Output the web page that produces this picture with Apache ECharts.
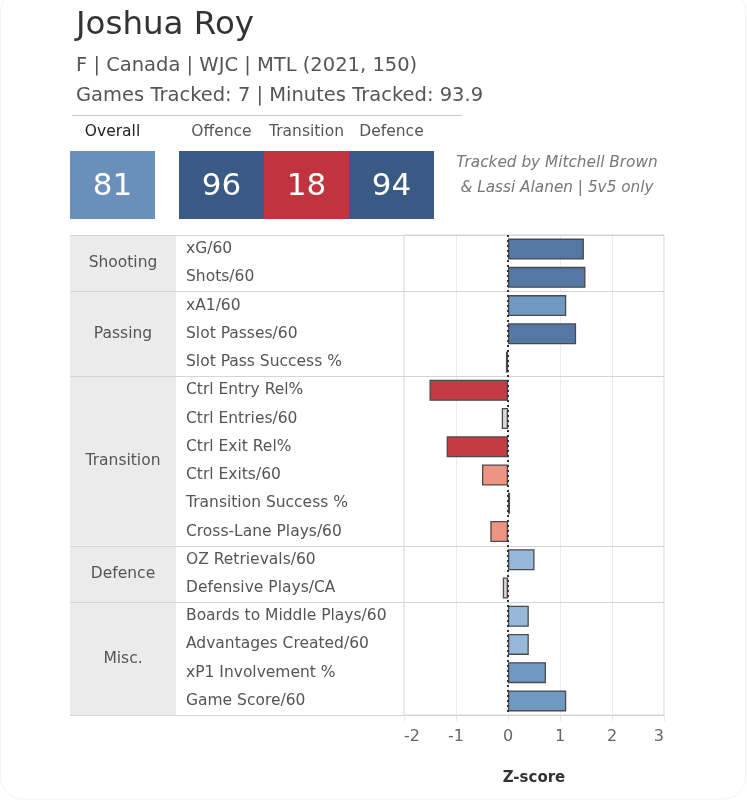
<!DOCTYPE html>
<html>
<head>
<meta charset="utf-8">
<script src="https://cdn.jsdelivr.net/npm/echarts@6/dist/echarts.min.js"></script>
<style>
html,body{margin:0;padding:0;background:#fff;}
#chart{width:747px;height:800px;}
</style>
</head>
<body>
<div id="chart"></div>
<script>
// ---- Data ----
const playerName = 'Joshua Roy';
const subtitle = 'F | Canada | WJC | MTL (2021, 150)';
const trackedLine = 'Games Tracked: 7 | Minutes Tracked: 93.9';
const creditLines = ['Tracked by Mitchell Brown', '& Lassi Alanen | 5v5 only'];

const scoreNames = ['Overall', 'Offence', 'Transition', 'Defence'];
const scoreValues = [81, 96, 18, 94];

const sectionNames = ['Shooting', 'Passing', 'Transition', 'Defence', 'Misc.'];
const sectionSizes = [2, 3, 6, 2, 4];

const metrics = [
  'xG/60', 'Shots/60',
  'xA1/60', 'Slot Passes/60', 'Slot Pass Success %',
  'Ctrl Entry Rel%', 'Ctrl Entries/60', 'Ctrl Exit Rel%', 'Ctrl Exits/60', 'Transition Success %', 'Cross-Lane Plays/60',
  'OZ Retrievals/60', 'Defensive Plays/CA',
  'Boards to Middle Plays/60', 'Advantages Created/60', 'xP1 Involvement %', 'Game Score/60'
];
const zScores = [
  1.46, 1.49,
  1.12, 1.31, -0.04,
  -1.51, -0.12, -1.18, -0.50, 0.04, -0.34,
  0.51, -0.10,
  0.40, 0.40, 0.73, 1.12
];
const xMin = -2, xMax = 3, xStep = 1;
const axisTitle = 'Z-score';

// ---- Layout / style ----
const FONT = '"DejaVu Sans", "Open Sans", sans-serif';
const G = {left: 404, right: 664, top: 235, bottom: 715};
const TABLE_LEFT = 70, CAT_RIGHT = 176, LABEL_X = 186;
const LINE_COLOR = '#d4d4d4';

function tileColor(v) {
  if (v >= 90) return '#3a5a86';
  if (v >= 60) return '#6a8fba';
  if (v >= 40) return '#d9d3d1';
  if (v >= 25) return '#e98b7c';
  return '#c1343f';
}

// section ranges from sizes
const sectionData = [];
let r = 0;
sectionSizes.forEach((n, i) => { sectionData.push([0, r, r + n - 1, i]); r += n; });

const chart = echarts.init(document.getElementById('chart'), null, {renderer: 'canvas'});

// header graphics
const graphics = [];
graphics.push({type: 'rect', shape: {x: 0.5, y: -10, width: 745, height: 809, r: 22},
  style: {fill: 'none', stroke: '#f0f3f7', lineWidth: 1}, silent: true});
graphics.push({type: 'text', x: 76, y: 26, style: {text: playerName, font: '400 32.5px ' + FONT, fill: '#333', align: 'left', verticalAlign: 'middle'}});
graphics.push({type: 'text', x: 76, y: 66, style: {text: subtitle, font: '400 19.5px ' + FONT, fill: '#555', align: 'left', verticalAlign: 'middle'}});
graphics.push({type: 'text', x: 76, y: 96, style: {text: trackedLine, font: '400 19.5px ' + FONT, fill: '#555', align: 'left', verticalAlign: 'middle'}});
graphics.push({type: 'line', shape: {x1: 72, y1: 115.5, x2: 462, y2: 115.5}, style: {stroke: '#c8c8c8', lineWidth: 1}});

const tileW = 85, tileH = 68, tileTop = 151;
const tileXs = [70, 179, 264, 349];
scoreNames.forEach((name, i) => {
  const x = tileXs[i];
  graphics.push({type: 'text', x: x + tileW / 2, y: 132,
    style: {text: name, font: '400 15.5px ' + FONT, fill: i === 0 ? '#222' : '#555', align: 'center', verticalAlign: 'middle'}});
  graphics.push({type: 'rect', shape: {x: x, y: tileTop, width: tileW, height: tileH},
    style: {fill: tileColor(scoreValues[i])}});
  graphics.push({type: 'text', x: x + tileW / 2, y: tileTop + tileH / 2 + 2,
    style: {text: String(scoreValues[i]), font: '400 31px ' + FONT, fill: '#fff', align: 'center', verticalAlign: 'middle'}});
});
creditLines.forEach((t, i) => {
  graphics.push({type: 'text', x: 557, y: 163 + i * 25,
    style: {text: t, font: 'italic 400 15.3px ' + FONT, fill: '#777', align: 'center', verticalAlign: 'middle'}});
});

const option = {
  animation: false,
  backgroundColor: '#fff',
  textStyle: {fontFamily: FONT},
  grid: {left: G.left, top: G.top, width: G.right - G.left, height: G.bottom - G.top,
    show: true, borderColor: LINE_COLOR, borderWidth: 1, containLabel: false},
  xAxis: {
    type: 'value', min: xMin, max: xMax, interval: xStep,
    name: axisTitle, nameLocation: 'middle', nameGap: 56,
    nameTextStyle: {fontSize: 15, fontWeight: 'bold', color: '#333', fontFamily: FONT},
    axisLine: {show: false},
    axisTick: {show: true, length: 6, lineStyle: {color: '#e8e8e8'}},
    axisLabel: {fontSize: 16, color: '#666', margin: 14, fontFamily: FONT,
      alignMinLabel: 'left', alignMaxLabel: 'right'},
    splitLine: {show: true, lineStyle: {color: '#ececec', width: 1}}
  },
  yAxis: {
    type: 'category', data: metrics, inverse: true,
    axisLine: {show: false}, axisTick: {show: false},
    splitLine: {show: false},
    axisLabel: {align: 'left', margin: G.left - LABEL_X, fontSize: 15.5, color: '#555', fontFamily: FONT}
  },
  visualMap: {
    show: false, type: 'piecewise', seriesIndex: 0, dimension: 0,
    pieces: [
      {gte: 1.2, color: '#5577a3'},
      {gte: 0.6, lt: 1.2, color: '#7099c1'},
      {gte: 0.2, lt: 0.6, color: '#95b8db'},
      {gte: -0.2, lt: 0.2, color: '#dfd7d5'},
      {gte: -0.6, lt: -0.2, color: '#ee9483'},
      {lt: -0.6, color: '#c63b43'}
    ]
  },
  series: [
    {
      type: 'bar',
      data: zScores,
      barWidth: 21,
      itemStyle: {borderColor: '#4a4a4a', borderWidth: 1.3},
      z: 3,
      markLine: {
        silent: true, symbol: 'none', label: {show: false},
        lineStyle: {type: [2, 3], color: '#333', width: 2},
        data: [{xAxis: 0}],
        z: 5
      }
    },
    {
      type: 'custom',
      data: sectionData,
      encode: {x: 0, y: 1},
      clip: false,
      silent: true,
      z: 1,
      renderItem: function (params, api) {
        const band = api.size([0, 1])[1];
        const y0 = api.coord([0, api.value(1)])[1] - band / 2;
        const y1 = api.coord([0, api.value(2)])[1] + band / 2;
        const idx = api.value(3);
        const children = [
          {type: 'rect', shape: {x: TABLE_LEFT, y: y0, width: CAT_RIGHT - TABLE_LEFT, height: y1 - y0},
            style: {fill: '#ebebeb'}},
          {type: 'line', shape: {x1: TABLE_LEFT, y1: Math.round(y0) + 0.5, x2: G.right, y2: Math.round(y0) + 0.5},
            style: {stroke: LINE_COLOR, lineWidth: 1}},
          {type: 'text', x: (TABLE_LEFT + CAT_RIGHT) / 2, y: (y0 + y1) / 2,
            style: {text: sectionNames[idx], font: '400 15.5px ' + FONT, fill: '#555', align: 'center', verticalAlign: 'middle'}}
        ];
        if (idx === sectionNames.length - 1) {
          children.push({type: 'line', shape: {x1: TABLE_LEFT, y1: Math.round(y1) + 0.5, x2: G.right, y2: Math.round(y1) + 0.5},
            style: {stroke: LINE_COLOR, lineWidth: 1}});
        }
        return {type: 'group', children: children};
      }
    }
  ],
  graphic: graphics
};
chart.setOption(option);
</script>
</body>
</html>
